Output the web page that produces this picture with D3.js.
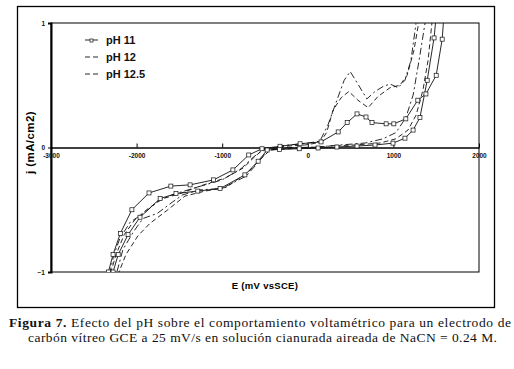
<!DOCTYPE html>
<html>
<head>
<meta charset="utf-8">
<script src="https://cdn.jsdelivr.net/npm/d3@7"></script>
<style>
  body { margin: 0; background: #fff; }
  svg { display: block; }
</style>
</head>
<body>
<div id="viz_container"></div>
<script>
// series names and ticks
const seriesNames = ["pH 11", "pH 12", "pH 12.5"];
const xTicks = [-3000, -2000, -1000, 0, 1000, 2000];
const yTicks = [-1, 0, 1];

// [E (mV), j (mA/cm2)], forward + reverse scan
const ph11Fwd = [[-2350,-1.14],[-2330,-1.0],[-2275,-0.86],[-2190,-0.69],[-2055,-0.50],[-1855,-0.365],[-1600,-0.31],[-1375,-0.30],[-1100,-0.26],[-875,-0.18],[-690,-0.06],[-535,-0.01],[-325,0.01],[-90,0.03],[155,0.045],[355,0.125],[460,0.20],[575,0.27],[680,0.245],[750,0.20],[915,0.19],[1005,0.19],[1145,0.23],[1285,0.38],[1380,0.43],[1500,0.58],[1570,0.87],[1590,1.06]];
const ph11Rev = [[1500,1.06],[1475,0.88],[1395,0.54],[1310,0.24],[1230,0.14],[1135,0.075],[995,0.035],[785,0.02],[575,0.012],[340,0.004],[120,-0.004],[-100,-0.01],[-330,-0.015],[-475,-0.02],[-580,-0.11],[-735,-0.22],[-1025,-0.33],[-1285,-0.35],[-1540,-0.37],[-1725,-0.41],[-1960,-0.56],[-2100,-0.70],[-2215,-0.86],[-2275,-1.0],[-2300,-1.14]];

const ph12Fwd = [[-2310,-1.14],[-2300,-1.0],[-2240,-0.86],[-2145,-0.70],[-2020,-0.58],[-1865,-0.49],[-1690,-0.41],[-1490,-0.37],[-1260,-0.31],[-965,-0.245],[-755,-0.165],[-615,-0.07],[-525,-0.02],[-265,0.01],[-35,0.02],[140,0.04],[220,0.12],[295,0.30],[390,0.40],[480,0.45],[585,0.38],[705,0.32],[820,0.41],[960,0.48],[1075,0.50],[1160,0.58],[1240,0.78],[1310,1.06]];
const ph12Rev = [[1465,1.10],[1450,1.0],[1405,0.70],[1345,0.46],[1265,0.26],[1170,0.14],[1030,0.07],[845,0.036],[550,0.02],[260,0.012],[120,0.004],[-90,-0.004],[-440,-0.02],[-560,-0.10],[-700,-0.20],[-955,-0.32],[-1200,-0.35],[-1435,-0.39],[-1635,-0.50],[-1845,-0.61],[-1985,-0.71],[-2125,-0.86],[-2205,-1.0],[-2230,-1.14]];

const ph125Fwd = [[-2320,-1.14],[-2310,-1.0],[-2265,-0.86],[-2195,-0.73],[-2075,-0.60],[-1900,-0.52],[-1730,-0.42],[-1540,-0.37],[-1300,-0.32],[-1000,-0.26],[-780,-0.17],[-640,-0.08],[-540,-0.025],[-300,0.015],[-60,0.03],[140,0.05],[235,0.18],[340,0.38],[425,0.54],[495,0.61],[585,0.51],[690,0.39],[785,0.45],[880,0.49],[960,0.51],[1055,0.48],[1135,0.54],[1205,0.70],[1265,1.0],[1285,1.10]];
const ph125Rev = [[1380,1.10],[1370,1.0],[1300,0.70],[1230,0.42],[1145,0.24],[1030,0.12],[880,0.07],[670,0.036],[375,0.02],[120,0.004],[-90,0],[-325,0],[-475,-0.03],[-580,-0.12],[-720,-0.23],[-1005,-0.33],[-1260,-0.34],[-1460,-0.38],[-1585,-0.44],[-1760,-0.53],[-1925,-0.57],[-2040,-0.68],[-2160,-0.82],[-2230,-1.0],[-2250,-1.14]];

const captionLine1 = "Efecto del pH sobre el comportamiento voltamétrico para un electrodo de";
const captionLine2 = "carbón vítreo GCE a 25 mV/s en solución cianurada aireada de NaCN = 0.24 M.";

var drawChart = () => {
  const width = 514, height = 369;
  const svg = d3.select("#viz_container")
    .append("svg")
    .attr("width", width)
    .attr("height", height);

  // outer frame of the chart
  svg.append("rect")
    .attr("x", 17.5).attr("y", 6.5)
    .attr("width", 477).attr("height", 301)
    .attr("fill", "#fff")
    .attr("stroke", "#000")
    .attr("stroke-width", 1.3);

  const plot = {left: 51, top: 23, right: 479, bottom: 272};

  const x = d3.scaleLinear().domain([-3000, 2000]).range([plot.left, plot.right]);
  const y = d3.scaleLinear().domain([-1, 1]).range([plot.bottom, plot.top]);

  svg.append("clipPath").attr("id", "clip")
    .append("rect")
    .attr("x", plot.left).attr("y", plot.top)
    .attr("width", plot.right - plot.left).attr("height", plot.bottom - plot.top);

  // plot area border
  svg.append("rect")
    .attr("x", plot.left).attr("y", plot.top)
    .attr("width", plot.right - plot.left).attr("height", plot.bottom - plot.top)
    .attr("fill", "none")
    .attr("stroke", "#000")
    .attr("stroke-width", 1);

  // y axis (left, thicker)
  const yAxis = svg.append("g")
    .attr("transform", `translate(${plot.left},0)`)
    .call(d3.axisLeft(y).tickValues(yTicks).tickSize(3).tickFormat(d3.format("d")));
  yAxis.select(".domain").attr("stroke-width", 2);
  yAxis.selectAll("text")
    .attr("x", -6)
    .style("font-family", "Arial, 'Liberation Sans', sans-serif")
    .style("font-size", "6.5px")
    .style("font-weight", "bold")
    .attr("fill", "#111");

  // x axis crossing at j = 0
  const xAxis = svg.append("g")
    .attr("transform", `translate(0,${y(0)})`)
    .call(d3.axisTop(x).tickValues(xTicks).tickSize(4).tickSizeOuter(0).tickFormat(d => d));
  xAxis.select(".domain").attr("stroke-width", 1.3);
  xAxis.selectAll("text")
    .attr("y", 10)
    .attr("dy", "0")
    .style("font-family", "Arial, 'Liberation Sans', sans-serif")
    .style("font-size", "6.5px")
    .style("font-weight", "bold")
    .attr("fill", "#111");

  // curves
  const line = d3.line().x(d => x(d[0])).y(d => y(d[1]));
  const curves = svg.append("g").attr("clip-path", "url(#clip)");
  const dashes = [null, "5,3", "7,3,2,3"];
  const loops = [ph11Fwd.concat(ph11Rev), ph12Fwd.concat(ph12Rev), ph125Fwd.concat(ph125Rev)];

  curves.selectAll("path")
    .data(loops)
    .join("path")
    .attr("d", line)
    .attr("fill", "none")
    .attr("stroke", "#111")
    .attr("stroke-width", 0.9)
    .attr("stroke-dasharray", (d, i) => dashes[i]);

  // open square markers for pH 11
  curves.selectAll("rect")
    .data(loops[0])
    .join("rect")
    .attr("x", d => x(d[0]) - 2)
    .attr("y", d => y(d[1]) - 2)
    .attr("width", 4).attr("height", 4)
    .attr("fill", "#fff")
    .attr("stroke", "#111")
    .attr("stroke-width", 0.7);

  // legend
  const legend = svg.append("g");
  const legendRows = legend.selectAll("g")
    .data(seriesNames)
    .join("g")
    .attr("transform", (d, i) => `translate(85,${40 + i * 17})`);
  legendRows.append("line")
    .attr("x1", 0).attr("x2", 13)
    .attr("stroke", "#111")
    .attr("stroke-width", 0.9)
    .attr("stroke-dasharray", (d, i) => i === 0 ? null : "5,3");
  legendRows.filter((d, i) => i === 0)
    .append("rect")
    .attr("x", 5).attr("y", -1).attr("width", 3).attr("height", 3)
    .attr("fill", "#fff").attr("stroke", "#111").attr("stroke-width", 0.7);
  legendRows.append("text")
    .attr("x", 21).attr("dy", "0.35em")
    .text(d => d)
    .style("font-family", "Arial, 'Liberation Sans', sans-serif")
    .style("font-size", "11px")
    .style("font-weight", "bold")
    .attr("fill", "#111");

  // axis titles
  svg.append("text")
    .attr("transform", `translate(34,${(plot.top + plot.bottom) / 2 - 5}) rotate(-90)`)
    .attr("text-anchor", "middle")
    .text("j (mA/cm2)")
    .style("font-family", "Arial, 'Liberation Sans', sans-serif")
    .style("font-size", "11.5px")
    .style("font-weight", "bold")
    .style("letter-spacing", "0.4px");
  svg.append("text")
    .attr("x", (plot.left + plot.right) / 2)
    .attr("y", 289)
    .attr("text-anchor", "middle")
    .text("E (mV vsSCE)")
    .style("font-family", "Arial, 'Liberation Sans', sans-serif")
    .style("font-size", "9.5px")
    .style("font-weight", "bold")
    .style("letter-spacing", "0.3px");

  // caption below the frame
  const cap1 = svg.append("text")
    .attr("x", 9).attr("y", 326.5)
    .attr("textLength", 502)
    .attr("lengthAdjust", "spacing")
    .style("font-family", "'Liberation Serif', 'Times New Roman', serif")
    .style("font-size", "13.5px")
    .attr("fill", "#111");
  cap1.append("tspan").style("font-weight", "bold").text("Figura 7.");
  cap1.append("tspan").text(" " + captionLine1);
  svg.append("text")
    .attr("x", 28).attr("y", 341.5)
    .attr("textLength", 469)
    .attr("lengthAdjust", "spacing")
    .style("font-family", "'Liberation Serif', 'Times New Roman', serif")
    .style("font-size", "13.5px")
    .attr("fill", "#111")
    .text(captionLine2);
};

drawChart();
</script>
</body>
</html>
